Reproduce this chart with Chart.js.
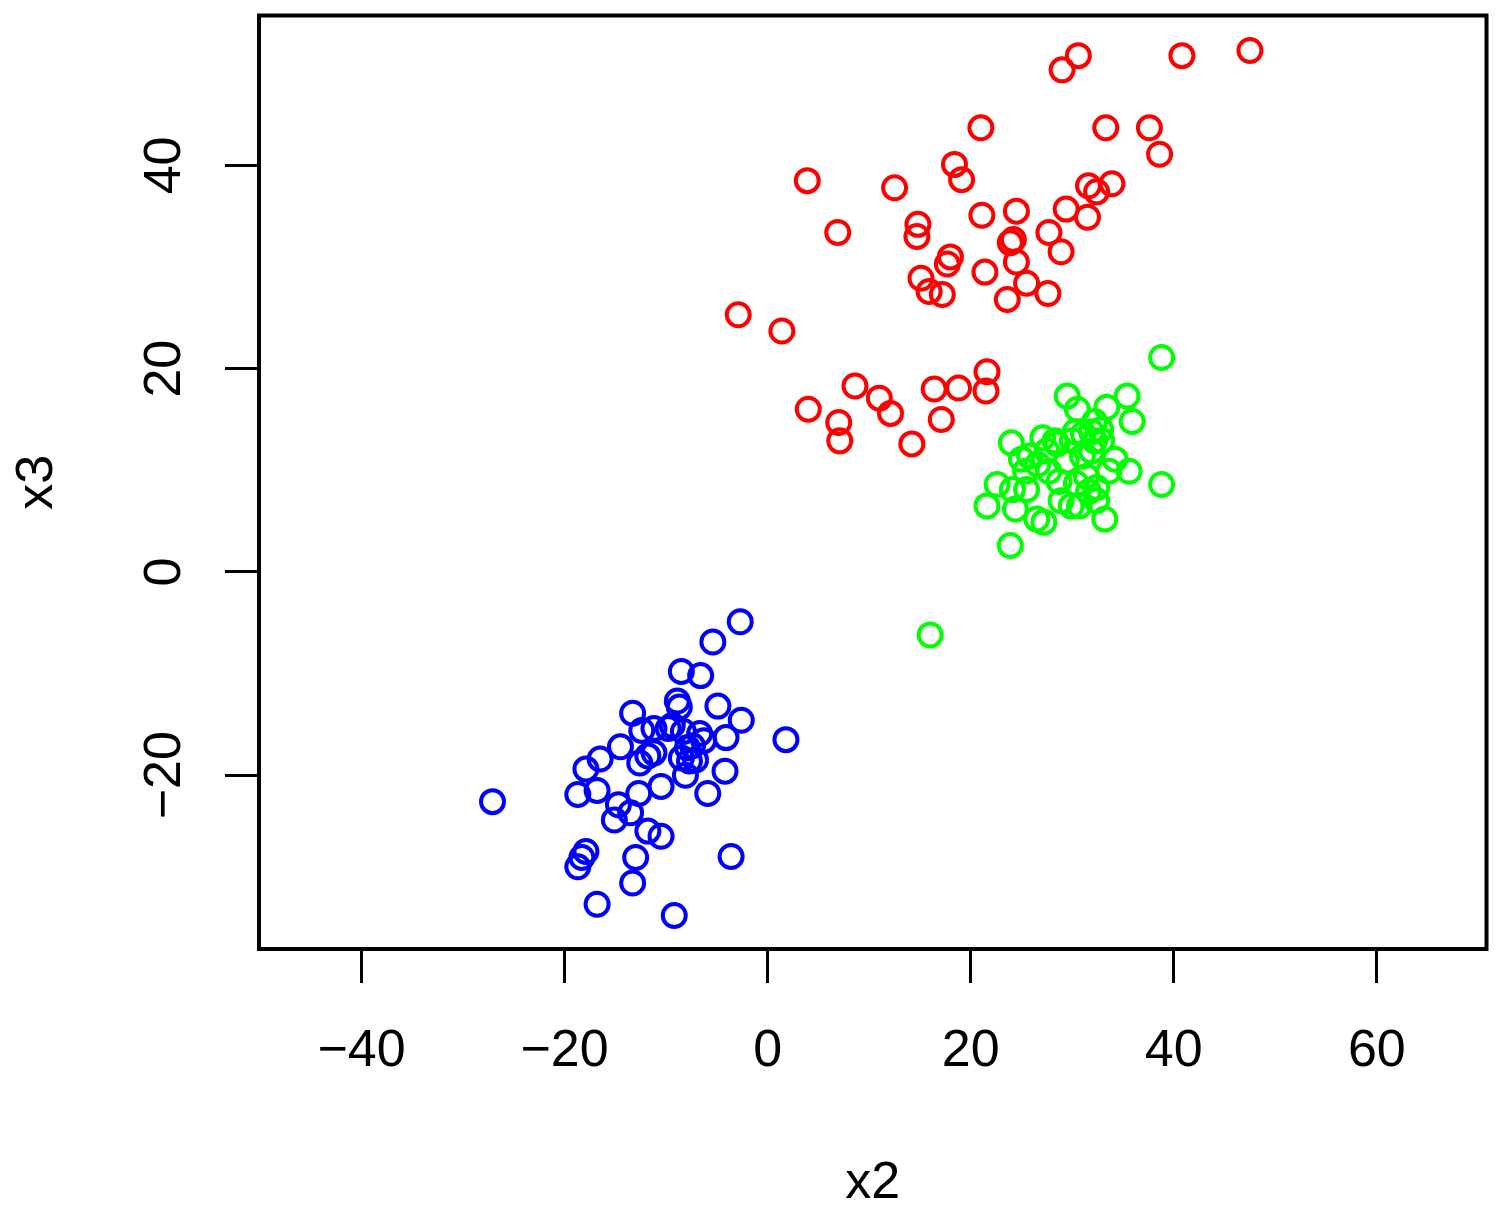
<!DOCTYPE html>
<html>
<head>
<meta charset="utf-8">
<script src="https://cdn.jsdelivr.net/npm/chart.js@4.4.0/dist/chart.umd.min.js"></script>
<style>
  html, body { margin: 0; padding: 0; background: #fff; }
  #grafico { display: block; }
</style>
</head>
<body>
<canvas id="grafico" width="1502" height="1210"></canvas>
<script>
// valores (x2, x3)
const redX = [47.5, 40.8, 30.6, 29.0, 21.0, 33.3, 37.6, 38.6, 3.9, 18.4, 19.1, 12.5, 31.6, 32.4, 33.9,
  6.9, 14.8, 14.7, 21.1, 24.5, 29.4, 31.5, 23.9, 24.2, 27.7, 28.9, 24.5, 18.0, 17.7, 21.4,
  15.1, 15.9, 17.2, 25.5, 23.6, 27.6, -2.9, 1.4, 21.6, 21.5, 8.6, 16.4, 18.8, 11.0, 4.0,
  12.1, 7.0, 17.1, 7.1, 14.2];
const redY = [51.3, 50.8, 50.8, 49.4, 43.7, 43.7, 43.7, 41.1, 38.5, 40.1, 38.6, 37.8, 38.0, 37.4, 38.2,
  33.4, 34.2, 33.0, 35.1, 35.5, 35.7, 34.9, 32.4, 32.7, 33.4, 31.5, 30.5, 31.0, 30.3, 29.5,
  28.9, 27.6, 27.3, 28.4, 26.8, 27.4, 25.3, 23.7, 19.7, 17.8, 18.3, 18.0, 18.1, 17.1, 16.0,
  15.6, 14.7, 15.0, 12.9, 12.6];

const greenX = [38.8, 29.5, 35.4, 30.5, 33.4, 35.9, 24.0, 27.1, 28.5, 30.0, 31.1, 31.9, 32.8, 32.2, 25.0,
  25.8, 26.6, 27.7, 29.4, 31.0, 34.2, 33.6, 35.6, 38.8, 22.6, 24.1, 25.5, 21.6, 24.4, 26.5,
  27.2, 28.9, 29.9, 30.7, 31.6, 32.4, 33.2, 23.9, 16.0, 31.4, 30.4, 31.9, 27.5, 28.7, 32.4,
  25.4, 32.2, 32.9, 28.3, 30.3];
const greenY = [21.1, 17.3, 17.3, 16.0, 16.2, 14.8, 12.7, 13.2, 12.6, 12.9, 13.6, 13.8, 14.0, 12.9, 11.1,
  11.4, 10.6, 9.9, 10.9, 11.4, 11.1, 9.9, 9.9, 8.6, 8.6, 8.1, 8.1, 6.5, 6.2, 5.2,
  4.9, 7.0, 6.5, 6.5, 7.9, 8.3, 5.2, 2.6, -6.2, 9.4, 8.7, 11.9, 11.9, 8.9, 7.0,
  9.9, 14.8, 12.9, 12.9, 13.8];

const blueX = [-2.7, -5.4, -8.5, -6.6, -8.9, -4.9, -13.3, -8.7, -12.4, -11.2, -9.8, -8.3, -6.7, -6.3, -4.1,
  -2.6, 1.8, -14.5, -16.5, -11.8, -12.6, -8.5, -7.1, -7.9, -8.1, -4.2, -17.9, -10.5, -5.9, -18.7,
  -16.8, -12.7, -27.1, -14.7, -13.5, -15.1, -11.8, -10.5, -17.9, -18.3, -18.7, -13.0, -3.6, -13.3, -16.8,
  -9.2, -7.7, -7.4, -11.2, -9.4];
const blueY = [-4.9, -6.9, -9.8, -10.2, -12.7, -13.2, -13.9, -13.3, -15.6, -15.4, -15.4, -15.7, -15.9, -16.6, -16.3,
  -14.6, -16.5, -17.2, -18.4, -18.1, -18.8, -18.3, -18.5, -17.3, -20.0, -19.6, -19.4, -21.1, -21.8, -21.9,
  -21.5, -21.8, -22.6, -22.9, -23.7, -24.4, -25.5, -26.0, -27.5, -28.1, -29.0, -28.1, -28.0, -30.6, -32.7,
  -33.8, -18.6, -17.1, -17.8, -15.1];

const xTicks = [-40, -20, 0, 20, 40, 60];
const yTicks = [-20, 0, 20, 40];

const fonte = '"Liberation Sans", Arial, sans-serif';

function pontos(xs, ys) {
  return xs.map((x, i) => ({ x: x, y: ys[i] }));
}

function serie(nome, xs, ys, cor) {
  return {
    label: nome,
    data: pontos(xs, ys),
    pointStyle: 'circle',
    pointRadius: 11.5,
    pointHoverRadius: 11.5,
    pointBorderWidth: 4,
    borderColor: cor,
    backgroundColor: 'rgba(0,0,0,0)',
    showLine: false
  };
}

// caixa do grafico + rotulos do eixo y (girados, como no R)
const caixaPlugin = {
  id: 'caixa',
  afterDraw(chart) {
    const ctx = chart.ctx;
    const a = chart.chartArea;
    ctx.save();
    ctx.strokeStyle = '#000';
    ctx.lineWidth = 4;
    ctx.strokeRect(a.left, a.top, a.right - a.left, a.bottom - a.top);

    const ys = chart.scales.y;
    ctx.fillStyle = '#000';
    ctx.font = '52px ' + fonte;
    ctx.textAlign = 'center';
    ctx.textBaseline = 'alphabetic';
    ys.ticks.forEach(t => {
      const py = ys.getPixelForValue(t.value);
      ctx.save();
      ctx.translate(180, py);
      ctx.rotate(-Math.PI / 2);
      ctx.fillText(String(t.value).replace('-', '\u2212'), 0, 0);
      ctx.restore();
    });
    ctx.restore();
  }
};

new Chart(document.getElementById('grafico'), {
  type: 'scatter',
  data: {
    datasets: [
      serie('vermelho', redX, redY, '#FF0000'),
      serie('verde', greenX, greenY, '#00FF00'),
      serie('azul', blueX, blueY, '#0000FF')
    ]
  },
  options: {
    responsive: false,
    animation: false,
    devicePixelRatio: 1,
    events: [],
    layout: { padding: { top: 14, right: 11, left: 0, bottom: 0 } },
    plugins: {
      legend: { display: false },
      tooltip: { enabled: false }
    },
    scales: {
      x: {
        type: 'linear',
        min: -50.1,
        max: 70.8,
        afterBuildTicks: s => { s.ticks = xTicks.map(v => ({ value: v })); },
        afterFit: s => { s.height = 261; s.paddingLeft = 0; s.paddingRight = 0; },
        grid: { drawOnChartArea: false, drawTicks: true, tickLength: 34, tickColor: '#000', tickWidth: 3 },
        border: { display: false },
        ticks: {
          color: '#000',
          font: { family: fonte, size: 52, lineHeight: 1 },
          padding: 43,
          maxRotation: 0,
          callback: v => String(v).replace('-', '\u2212')
        },
        title: {
          display: true,
          text: 'x2',
          color: '#000',
          font: { family: fonte, size: 52, lineHeight: 1 },
          padding: 0
        }
      },
      y: {
        type: 'linear',
        min: -37.1,
        max: 54.75,
        afterBuildTicks: s => { s.ticks = yTicks.map(v => ({ value: v })); },
        afterFit: s => { s.width = 259; s.paddingTop = 0; s.paddingBottom = 0; },
        grid: { drawOnChartArea: false, drawTicks: true, tickLength: 34, tickColor: '#000', tickWidth: 3 },
        border: { display: false },
        ticks: { display: false },
        title: {
          display: true,
          text: 'x3',
          color: '#000',
          font: { family: fonte, size: 52, lineHeight: 1 },
          padding: { top: 12, bottom: 0 }
        }
      }
    }
  },
  plugins: [caixaPlugin]
});
</script>
</body>
</html>
